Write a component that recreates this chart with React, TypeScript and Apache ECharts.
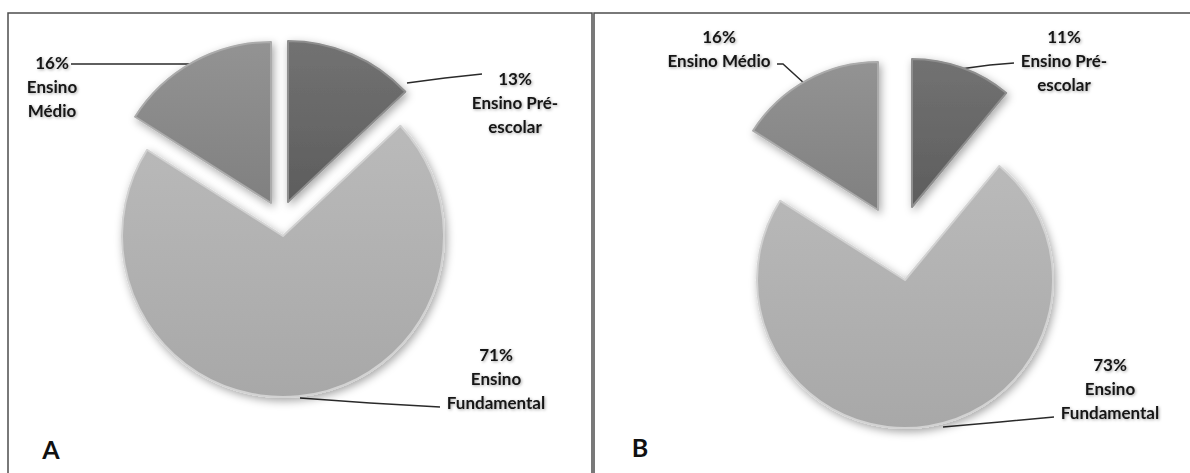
import React, { useEffect, useRef } from "react";
import * as echarts from "echarts";

// Education level categories, in clockwise order from 12 o'clock
const categories = ["Ensino Pré-escolar", "Ensino Fundamental", "Ensino Médio"];
// Percentages per panel
const valuesA = [13, 71, 16];
const valuesB = [11, 73, 16];
// Label text (wrapped) per panel
const labelTextA = ["Ensino Pré-\nescolar", "Ensino\nFundamental", "Ensino\nMédio"];
const labelTextB = ["Ensino Pré-\nescolar", "Ensino\nFundamental", "Ensino Médio"];
const panelLetters = ["A", "B"];

// Slice fills (grey shades) and light rim colours
const sliceFill = [
  ["#727272", "#5d5d5d"],
  ["#bababa", "#a8a8a8"],
  ["#939393", "#808080"],
];
const sliceRim = ["#8e8e8e", "#d2d2d2", "#ababab"];

type PanelLayout = {
  radius: number;
  centers: number[][]; // one per slice (exploded slices get their own centre)
  labels: { x: number; y: number; line: number[][] }[];
};

const layoutA: PanelLayout = {
  radius: 161,
  centers: [
    [288, 202],
    [283, 236],
    [271, 203],
  ],
  labels: [
    { x: 515, y: 102, line: [[407, 83], [445, 78], [482, 74]] },
    { x: 496, y: 378, line: [[300, 398], [370, 403], [440, 407]] },
    { x: 52, y: 86, line: [[192, 64], [130, 64], [71, 64]] },
  ],
};

const layoutB: PanelLayout = {
  radius: 148,
  centers: [
    [912, 207],
    [905, 280],
    [878, 210],
  ],
  labels: [
    { x: 1064, y: 60, line: [[960, 69], [990, 65], [1014, 63]] },
    { x: 1110, y: 388, line: [[943, 427], [1000, 422], [1054, 417]] },
    { x: 719, y: 48, line: [[805, 84], [783, 64], [777, 64]] },
  ],
};

function panelSeries(values: number[], labelText: string[], layout: PanelLayout) {
  return values.map((_, sliceIdx) => ({
    type: "pie",
    silent: true,
    radius: layout.radius,
    center: layout.centers[sliceIdx],
    startAngle: 90,
    clockwise: true,
    avoidLabelOverlap: false,
    emphasis: { disabled: true },
    labelLayout: {
      x: layout.labels[sliceIdx].x,
      y: layout.labels[sliceIdx].y,
      align: "center",
      verticalAlign: "middle",
      labelLinePoints: layout.labels[sliceIdx].line,
    },
    data: values.map((v, j) => {
      const visible = j === sliceIdx;
      return {
        name: categories[j],
        value: v,
        itemStyle: visible
          ? {
              color: new echarts.graphic.LinearGradient(0, 0, 0, 1, [
                { offset: 0, color: sliceFill[j][0] },
                { offset: 1, color: sliceFill[j][1] },
              ]),
              borderColor: sliceRim[j],
              borderWidth: 2,
              shadowBlur: 8,
              shadowColor: "rgba(0,0,0,0.35)",
              shadowOffsetX: 2,
              shadowOffsetY: 3,
            }
          : { color: "rgba(0,0,0,0)", borderWidth: 0 },
        label: {
          show: visible,
          position: "outside",
          formatter: () => `${v}%\n${labelText[j]}`,
          fontFamily: "Lato",
          fontWeight: "bold",
          fontSize: 17,
          lineHeight: 24,
          color: "#161616",
          textShadowColor: "rgba(0,0,0,0.35)",
          textShadowBlur: 3,
          textShadowOffsetX: 1,
          textShadowOffsetY: 1,
        },
        labelLine: {
          show: visible,
          smooth: false,
          lineStyle: { color: "#2a2a2a", width: 1.5 },
        },
      };
    }),
  }));
}

export default function App() {
  const ref = useRef<HTMLDivElement>(null);

  useEffect(() => {
    if (!ref.current) return;
    const chart = echarts.init(ref.current, null, { renderer: "svg" });
    chart.setOption({
      animation: false,
      backgroundColor: "#ffffff",
      graphic: [
        {
          type: "rect",
          shape: { x: 8, y: 13, width: 584, height: 500 },
          style: { fill: "none", stroke: "#4d4d4d", lineWidth: 1.5 },
        },
        {
          type: "rect",
          shape: { x: 594, y: 13, width: 620, height: 500 },
          style: { fill: "none", stroke: "#4d4d4d", lineWidth: 1.5 },
        },
        {
          type: "text",
          x: 51,
          y: 449,
          style: {
            text: panelLetters[0],
            font: "bold 25px Lato",
            fill: "#111",
            align: "center",
            verticalAlign: "middle",
          },
        },
        {
          type: "text",
          x: 640,
          y: 447,
          style: {
            text: panelLetters[1],
            font: "bold 25px Lato",
            fill: "#111",
            align: "center",
            verticalAlign: "middle",
          },
        },
      ],
      series: [
        ...panelSeries(valuesA, labelTextA, layoutA),
        ...panelSeries(valuesB, labelTextB, layoutB),
      ],
    });
    return () => chart.dispose();
  }, []);

  return (
    <div
      ref={ref}
      style={{ position: "fixed", left: 0, top: 0, width: 1190, height: 473 }}
    />
  );
}
